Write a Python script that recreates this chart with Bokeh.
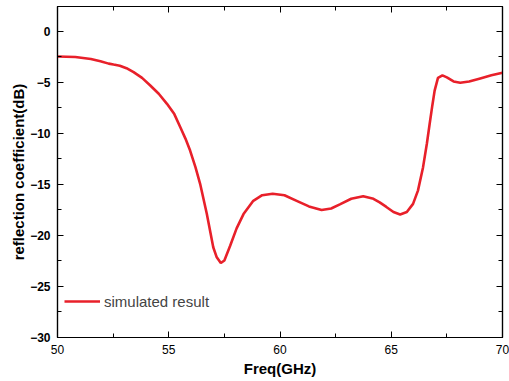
from bokeh.plotting import figure
from bokeh.models import (LinearAxis, SingleIntervalTicker, Range1d, Legend, LegendItem,
                          CustomJSTickFormatter)
from bokeh.embed import file_html
from bokeh.resources import INLINE

freq = [50.0, 50.8, 51.5, 51.93, 52.3, 52.52, 52.8, 53.1, 53.42, 53.8, 54.17, 54.55,
        54.92, 55.25, 55.52, 55.75, 55.96, 56.2, 56.41, 56.71, 57.0, 57.15, 57.34, 57.5,
        57.76, 58.05, 58.36, 58.8, 59.2, 59.67, 60.2, 60.75, 61.3, 61.87, 62.3, 62.69,
        63.2, 63.74, 64.2, 64.48, 64.78, 65.1, 65.4, 65.7, 65.98, 66.2, 66.43, 66.6,
        66.73, 66.85, 66.95, 67.1, 67.3, 67.5, 67.8, 68.1, 68.5, 69.0, 69.5, 70.0]
s11 = [-2.45, -2.5, -2.7, -2.91, -3.15, -3.24, -3.35, -3.6, -3.99, -4.55, -5.29, -6.1,
       -7.09, -8.1, -9.38, -10.5, -11.67, -13.3, -14.93, -17.87, -21.15, -22.1, -22.7, -22.45,
       -21.0, -19.3, -17.9, -16.6, -16.05, -15.9, -16.05, -16.6, -17.15, -17.5, -17.35, -16.95,
       -16.4, -16.15, -16.4, -16.75, -17.2, -17.7, -17.95, -17.7, -16.9, -15.6, -13.3, -11.0,
       -9.0, -7.2, -5.8, -4.55, -4.3, -4.5, -4.9, -5.03, -4.9, -4.6, -4.3, -4.05]
series_name = "simulated result"
x_label = "Freq(GHz)"
y_label = "reflection coefficient(dB)"

FONT = "Liberation Sans"

p = figure(width=509, height=381, output_backend="svg", toolbar_location=None,
           x_range=Range1d(50, 70), y_range=Range1d(-30, 2.45),
           min_border_left=57, min_border_right=7, min_border_top=6, min_border_bottom=44,
           x_axis_location=None, y_axis_location=None)
p.grid.visible = False
p.outline_line_color = "black"
p.outline_line_width = 1.2

r = p.line(freq, s11, line_color="#E8202A", line_width=2.6)

def style(ax, show_labels):
    ax.ticker = SingleIntervalTicker(interval=5, num_minor_ticks=2)
    ax.major_tick_in = 6
    ax.major_tick_out = 0
    ax.minor_tick_in = 4
    ax.minor_tick_out = 0
    ax.axis_line_color = "black"
    ax.axis_line_width = 1.2
    ax.major_tick_line_color = "black"
    ax.minor_tick_line_color = "black"
    ax.major_label_text_font = FONT
    ax.major_label_text_color = "black"
    ax.axis_label_text_font = FONT
    ax.axis_label_text_font_style = "bold"
    ax.axis_label_text_color = "black"
    if not show_labels:
        ax.formatter = CustomJSTickFormatter(code="return ''")
        ax.major_label_standoff = 0

xb = LinearAxis(axis_label=x_label)
style(xb, True)
xb.major_label_text_font_size = "12px"
xb.major_label_standoff = 7
xb.axis_label_text_font_size = "15px"
xb.axis_label_standoff = 3
p.add_layout(xb, "below")

yl = LinearAxis(axis_label=y_label)
style(yl, True)
yl.major_label_text_font_size = "12px"
yl.major_label_text_font_style = "bold"
yl.major_label_standoff = 7
yl.axis_label_text_font_size = "15px"
yl.axis_label_standoff = 0
p.add_layout(yl, "left")

xt = LinearAxis()
style(xt, False)
p.add_layout(xt, "above")
yr = LinearAxis()
style(yr, False)
p.add_layout(yr, "right")

legend = Legend(items=[LegendItem(label=series_name, renderers=[r])],
                location=(7, 26), border_line_color=None, background_fill_alpha=0,
                label_text_font=FONT, label_text_font_size="15px",
                glyph_width=36, glyph_height=20, label_standoff=4, margin=0, padding=4)
p.add_layout(legend)

open("out.html", "w").write(file_html(p, INLINE))
